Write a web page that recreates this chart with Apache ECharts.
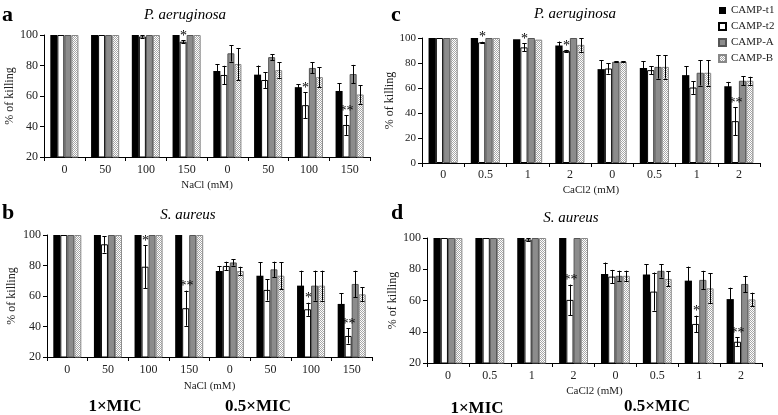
<!DOCTYPE html>
<html><head><meta charset="utf-8">
<script src="https://cdn.jsdelivr.net/npm/echarts@6/dist/echarts.min.js"></script>
<style>html,body{margin:0;padding:0;background:#fff}#c{width:778px;height:415px}</style>
</head><body><div id="c"></div>
<script>
const seriesNames = ['CAMP-t1','CAMP-t2','CAMP-A','CAMP-B'];
const catsNaCl = ['0','50','100','150','0','50','100','150'];
const catsCaCl = ['0','0.5','1','2','0','0.5','1','2'];

// Panel a: P. aeruginosa, NaCl
const aT1 = [100,100,100,100,76.4,74,65.8,63.3];
const aT1Err = [0,0,0,0,4.6,6,2,5.2];
const aT2 = [100,100,99,95.6,73.8,70.5,54,41];
const aT2Err = [0,0,0.8,1,6,5.2,8.6,6.5];
const aA = [100,100,100,100,88,85.5,78.4,74.4];
const aAErr = [0,0,0,0,5.4,2,3.6,6];
const aB = [100,100,100,100,81,77,72.4,61];
const aBErr = [0,0,0,0,10.5,5,6.6,6];
const aStars = ['','','','*','','','*','**'];

// Panel b: S. aureus, NaCl
const bT1 = [100,100,100,100,76.4,73.3,66.8,54.8];
const bT1Err = [0,0,0,0,3.3,8.7,9.8,7];
const bT2 = [100,93.9,79.2,52,79.7,64,51.3,33.8];
const bT2Err = [0,5.4,14,11.5,2.8,7,4.3,5];
const bA = [100,100,100,100,82,77.5,66.8,67.9];
const bAErr = [0,0,0,0,2,5,9.8,8.7];
const bB = [100,100,100,100,76.4,73.3,66.8,61.1];
const bBErr = [0,0,0,0,2.8,8.7,9.8,4.6];
const bStars = ['','','*','**','','','*','**'];

// Panel c: P. aeruginosa, CaCl2
const cT1 = [100,100,99,94,75.1,76.1,70.3,61.4];
const cT1Err = [0,0,0,3.2,7.3,5.4,7.2,3.5];
const cT2 = [100,96.5,92.5,89.7,75.6,74.3,60.4,33.5];
const cT2Err = [0,0.5,3.2,0.8,4.1,3.2,5.1,11.3];
const cA = [100,100,100,100,81,76.9,72.2,65.8];
const cAErr = [0,0,0,0,0.5,9.4,10.2,3.7];
const cB = [100,100,98.7,94.5,81,76.9,72.2,65.8];
const cBErr = [0,0,0,5.5,0.5,9.4,10.2,3.2];
const cStars = ['','*','*','*','','','','**'];

// Panel d: S. aureus, CaCl2
const dT1 = [100,100,100,100,77,76.6,72.7,60.9];
const dT1Err = [0,0,0,0,7.3,6.7,9,7.3];
const dT2 = [100,100,99,60.4,75.3,65.7,45,33.6];
const dT2Err = [0,0,0.8,9.8,4.3,12.2,5.3,2.8];
const dA = [100,100,100,100,75.8,79,73.2,70.6];
const dAErr = [0,0,0,0,3.3,4.3,5.8,5.2];
const dB = [100,100,100,100,75.8,73.8,67.8,60.7];
const dBErr = [0,0,0,0,3.3,4.8,9.7,4.3];
const dStars = ['','','','**','','','*','**'];

const SERIF = '"Liberation Serif","Times New Roman",serif';
const GAP = 0.31;

// dotted pattern
const pc = document.createElement('canvas');
pc.width = 2; pc.height = 2;
const pctx = pc.getContext('2d');
pctx.fillStyle = '#ffffff'; pctx.fillRect(0,0,2,2);
pctx.fillStyle = '#a8a8a8'; pctx.fillRect(0,0,1,1); pctx.fillRect(1,1,1,1);

const styles = [
  {color:'#000000', borderColor:'#000000', borderWidth:0},
  {color:'#ffffff', borderColor:'#000000', borderWidth:1},
  {color:'#8c8c8c', borderColor:'#555555', borderWidth:1},
  {color:{image:pc, repeat:'repeat'}, borderColor:'#888888', borderWidth:1}
];

const panels = [
  {vals:[aT1,aT2,aA,aB], errs:[aT1Err,aT2Err,aAErr,aBErr], stars:aStars, cats:catsNaCl, min:20, name:'NaCl (mM)',
   grid:{left:44, top:35, width:326, height:122}, nameGap:23, labMargin:7, yFont:12, yNameGap:26},
  {vals:[bT1,bT2,bA,bB], errs:[bT1Err,bT2Err,bAErr,bBErr], stars:bStars, cats:catsNaCl, min:20, name:'NaCl (mM)',
   grid:{left:47, top:235, width:325, height:122}, nameGap:24, labMargin:7, yFont:12, yNameGap:29},
  {vals:[cT1,cT2,cA,cB], errs:[cT1Err,cT2Err,cAErr,cBErr], stars:cStars, cats:catsCaCl, min:0, name:'CaCl2 (mM)',
   grid:{left:422, top:38, width:338, height:125}, nameGap:22, labMargin:6, yFont:11, yNameGap:25},
  {vals:[dT1,dT2,dA,dB], errs:[dT1Err,dT2Err,dAErr,dBErr], stars:dStars, cats:catsCaCl, min:20, name:'CaCl2 (mM)',
   grid:{left:427, top:238, width:335, height:125}, nameGap:23, labMargin:7, yFont:12, yNameGap:28}
];

function errRender(stars){
  return function(params, api){
    const cat = api.value(0), si = api.value(1), val = api.value(2), err = api.value(3);
    const c = api.coord([cat, val]);
    const band = api.size([1,0])[0];
    const bw = band*(1-GAP)/4;
    const x = Math.round(c[0] + (si-1.5)*bw) + 0.5;
    const children = [];
    let top = c[1];
    if (err > 0) {
      top = api.coord([cat, val+err])[1];
      const bot = api.coord([cat, val-err])[1];
      const hw = Math.max(2, bw*0.3);
      const col = '#000';
      children.push({type:'line', shape:{x1:x,y1:top,x2:x,y2:bot}, style:{stroke:col,lineWidth:1}});
      children.push({type:'line', shape:{x1:x-hw,y1:Math.round(top)+0.5,x2:x+hw,y2:Math.round(top)+0.5}, style:{stroke:col,lineWidth:1}});
      children.push({type:'line', shape:{x1:x-hw,y1:Math.round(bot)+0.5,x2:x+hw,y2:Math.round(bot)+0.5}, style:{stroke:col,lineWidth:1}});
    }
    if (si === 1 && stars[cat]) {
      children.push({type:'text', style:{text:stars[cat], x:x, y:top-4, align:'center', verticalAlign:'middle',
        font:'14px ' + SERIF, fill:'#000'}});
    }
    return {type:'group', children};
  };
}

const grid = [], xAxis = [], yAxis = [], series = [];
panels.forEach((p, pi) => {
  grid.push(p.grid);
  xAxis.push({type:'category', gridIndex:pi, data:p.cats, boundaryGap:true,
    name:p.name, nameLocation:'middle', nameGap:p.nameGap,
    nameTextStyle:{fontFamily:SERIF, fontSize:11, color:'#222'},
    axisLine:{lineStyle:{color:'#000', width:1}},
    axisTick:{show:true, interval:0, alignWithLabel:false, length:4, lineStyle:{color:'#000'}},
    axisLabel:{interval:0, margin:p.labMargin, fontFamily:SERIF, fontSize:12, color:'#222'}});
  yAxis.push({type:'value', gridIndex:pi, min:p.min, max:100, interval:20,
    name:'% of killing', nameLocation:'middle', nameGap:p.yNameGap,
    nameTextStyle:{fontFamily:SERIF, fontSize:12, color:'#222'},
    axisLine:{show:true, lineStyle:{color:'#000', width:1}},
    axisTick:{show:true, length:4, lineStyle:{color:'#000'}},
    splitLine:{show:false},
    axisLabel:{margin:6, fontFamily:SERIF, fontSize:p.yFont, color:'#222'}});
  p.vals.forEach((v, si) => {
    series.push({type:'bar', name:seriesNames[si], xAxisIndex:pi, yAxisIndex:pi, data:v,
      barGap:'0%', barCategoryGap:(GAP*100)+'%', clip:true, itemStyle:styles[si],
      emphasis:{disabled:true}, animation:false});
  });
  const ed = [];
  p.vals.forEach((v, si) => v.forEach((val, ci) => ed.push([ci, si, val, p.errs[si][ci]])));
  series.push({type:'custom', xAxisIndex:pi, yAxisIndex:pi, data:ed, encode:{x:0, y:2},
    renderItem:errRender(p.stars), z:5, silent:true, animation:false});
});

const chart = echarts.init(document.getElementById('c'), null, {renderer:'canvas'});
chart.setOption({
  backgroundColor:'#fff',
  animation:false,
  grid, xAxis, yAxis, series,
  legend:{orient:'vertical', left:718, top:5, itemWidth:7, itemHeight:7, itemGap:5,
    icon:'rect', data:seriesNames, padding:0,
    textStyle:{fontFamily:SERIF, fontSize:11, color:'#222'}},
  graphic:[
    {type:'text', x:2, y:15, style:{text:'a', font:'bold 22px '+SERIF, fill:'#000', verticalAlign:'middle'}},
    {type:'text', x:2, y:213, style:{text:'b', font:'bold 22px '+SERIF, fill:'#000', verticalAlign:'middle'}},
    {type:'text', x:391, y:15, style:{text:'c', font:'bold 22px '+SERIF, fill:'#000', verticalAlign:'middle'}},
    {type:'text', x:391, y:213, style:{text:'d', font:'bold 22px '+SERIF, fill:'#000', verticalAlign:'middle'}},
    {type:'text', x:185, y:15, style:{text:'P. aeruginosa', font:'italic 15px '+SERIF, fill:'#000', align:'center', verticalAlign:'middle'}},
    {type:'text', x:188, y:215, style:{text:'S. aureus', font:'italic 15px '+SERIF, fill:'#000', align:'center', verticalAlign:'middle'}},
    {type:'text', x:575, y:14, style:{text:'P. aeruginosa', font:'italic 15px '+SERIF, fill:'#000', align:'center', verticalAlign:'middle'}},
    {type:'text', x:571, y:218, style:{text:'S. aureus', font:'italic 15px '+SERIF, fill:'#000', align:'center', verticalAlign:'middle'}},
    {type:'text', x:115, y:407, style:{text:'1×MIC', font:'bold 17px '+SERIF, fill:'#000', align:'center', verticalAlign:'middle'}},
    {type:'text', x:258, y:407, style:{text:'0.5×MIC', font:'bold 17px '+SERIF, fill:'#000', align:'center', verticalAlign:'middle'}},
    {type:'text', x:477, y:409, style:{text:'1×MIC', font:'bold 17px '+SERIF, fill:'#000', align:'center', verticalAlign:'middle'}},
    {type:'text', x:657, y:407, style:{text:'0.5×MIC', font:'bold 17px '+SERIF, fill:'#000', align:'center', verticalAlign:'middle'}}
  ]
});
</script></body></html>
